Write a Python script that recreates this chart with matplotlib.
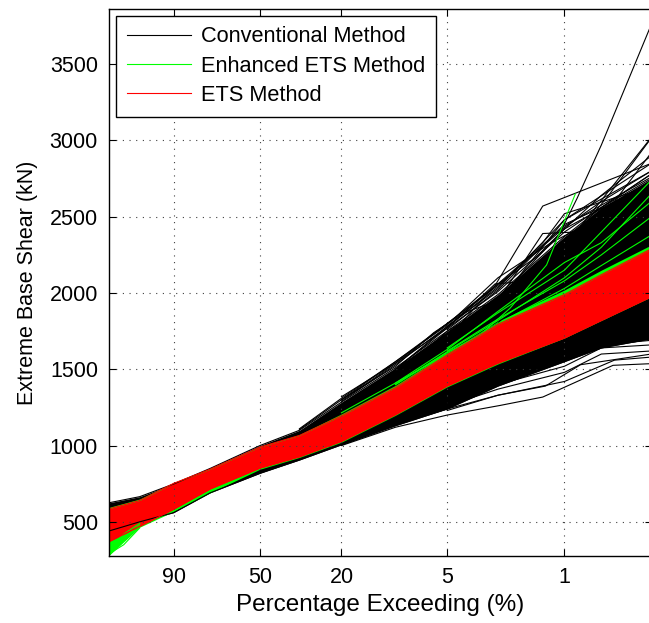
import numpy as np
import matplotlib.pyplot as plt
from matplotlib.lines import Line2D

plt.rcParams['font.family'] = ['Liberation Sans', 'DejaVu Sans']

# percentage exceeding at which the bands were read
pct = [99.65, 97.5, 90, 75, 50, 33, 20, 10, 5, 2.5, 1, 0.6, 0.3]

# conventional method, dense band (kN)
conv_lo = [440, 500, 560, 690, 818, 905, 1005, 1130, 1240, 1390, 1550, 1640, 1700]
conv_hi = [625, 665, 748, 850, 1000, 1100, 1285, 1510, 1750, 1990, 2370, 2560, 2750]

# enhanced ETS, dense band
enh_lo = [280, 465, 568, 690, 845, 922, 1022, 1198, 1385, 1535, 1705, 1820, 1975]
enh_hi = [595, 650, 758, 852, 995, 1072, 1208, 1395, 1612, 1815, 2020, 2150, 2315]

# ETS, dense band
ets_lo = [370, 470, 582, 715, 852, 926, 1027, 1202, 1390, 1540, 1705, 1820, 1975]
ets_hi = [585, 640, 752, 845, 990, 1066, 1195, 1380, 1595, 1795, 1990, 2120, 2290]

# single conventional curves above the dense band
conv_up_p = [[5, 2.5, 1.4, 0.84, 0.6, 0.3],
             [10, 5, 2.6, 1.35, 0.3],
             [10, 5, 2.5, 1.35, 0.85, 0.3],
             [20, 10, 6, 4, 2.5, 1, 0.3],
             [10, 5, 2.6, 2.0, 1, 0.3],
             [5, 2.5, 1, 0.56, 0.3],
             [5, 2.5, 1, 0.6, 0.3],
             [5, 2.5, 1, 0.6, 0.3],
             [10, 5, 2.5, 1.35, 1, 0.3],
             [20, 10, 5, 2.5, 1, 0.3],
             [20, 10, 5, 2.5, 1, 0.6, 0.3],
             [33, 20, 10, 5, 2.5, 1, 0.3],
             [20, 10, 5, 2.5, 1.2, 0.6, 0.3],
             [5, 2.5, 1.5, 1, 0.5, 0.3],
             [33, 20, 14, 10, 5, 2.5, 1, 0.3]]
conv_up_v = [[1600, 1800, 2130, 2620, 2970, 3760],
             [1420, 1700, 2050, 2570, 2850],
             [1450, 1750, 1950, 2390, 2400, 3020],
             [1300, 1520, 1740, 1870, 1950, 2350, 2650],
             [1500, 1770, 2060, 2070, 2480, 2800],
             [1650, 1900, 2300, 2620, 3016],
             [1760, 2020, 2450, 2560, 2780],
             [1700, 1960, 2420, 2640, 2900],
             [1500, 1780, 2040, 2330, 2520, 2700],
             [1290, 1530, 1780, 2030, 2480, 2850],
             [1320, 1540, 1800, 2050, 2430, 2600, 2800],
             [1110, 1310, 1550, 1800, 2060, 2440, 2760],
             [1300, 1550, 1790, 2100, 2330, 2500, 2720],
             [1780, 2060, 2230, 2420, 2600, 2920],
             [1105, 1300, 1420, 1540, 1770, 2010, 2400, 2780]]

# single conventional curves below the dense band
conv_dn_p = [[20, 10, 5, 2.43, 1.35, 0.51, 0.3],
             [20, 10, 5, 2.5, 1, 0.5, 0.3],
             [10, 5, 2.5, 1, 0.6, 0.3],
             [10, 5, 2.5, 1, 0.6, 0.3],
             [5, 2.5, 1, 0.6, 0.3],
             [5, 2.5, 1.3, 0.8, 0.3]]
conv_dn_v = [[1000, 1120, 1200, 1263, 1318, 1526, 1537],
             [1005, 1140, 1240, 1330, 1420, 1560, 1580],
             [1150, 1260, 1370, 1480, 1600, 1620],
             [1160, 1280, 1400, 1520, 1640, 1660],
             [1300, 1420, 1560, 1660, 1690],
             [1230, 1330, 1390, 1530, 1600]]

# single enhanced ETS curves (upper fringe and lower-left fan)
enh_line_p = [[10, 5, 3.2, 2.12, 1.28, 0.86],
              [5, 2.5, 1, 0.6, 0.3],
              [5, 2.5, 1, 0.6, 0.3],
              [10, 5, 2.5, 1, 0.6, 0.3],
              [20, 10, 5, 2.5, 1, 0.6, 0.3],
              [10, 5, 2.5, 1, 0.6, 0.3],
              [99.65, 99, 97.5],
              [99.65, 99, 97.5],
              [99.65, 99, 97.5],
              [99.65, 99, 97.5]]
enh_line_v = [[1400, 1610, 1724, 1900, 2184, 2650],
              [1640, 1870, 2150, 2400, 2740],
              [1620, 1830, 2080, 2250, 2500],
              [1410, 1600, 1800, 2030, 2180, 2380],
              [1215, 1410, 1630, 1880, 2200, 2330, 2600],
              [1400, 1615, 1820, 2100, 2300, 2650],
              [280, 380, 470],
              [300, 400, 480],
              [330, 420, 490],
              [290, 350, 460]]


def gumbel(p):
    # reduced variate of Gumbel probability paper
    return -np.log(-np.log(1 - np.asarray(p, dtype=float) / 100.0))


fig = plt.figure(figsize=(6.49, 6.23), dpi=100)
ax = fig.add_axes([109 / 649, 67 / 623, 543 / 649, 547 / 623])

gx = gumbel(pct)

# conventional
ax.fill_between(gx, conv_lo, conv_hi, color='black', lw=0)
for p, v in zip(conv_up_p + conv_dn_p, conv_up_v + conv_dn_v):
    ax.plot(gumbel(p), v, color='black', lw=0.8)
ax.plot(gx, conv_lo, color='black', lw=0.8)
ax.plot(gx, conv_hi, color='black', lw=0.8)

# enhanced ETS
ax.fill_between(gx, enh_lo, enh_hi, color='#00ff00', lw=0)
for p, v in zip(enh_line_p, enh_line_v):
    ax.plot(gumbel(p), v, color='#00ff00', lw=0.8)

# ETS
ax.fill_between(gx, ets_lo, ets_hi, color='red', lw=0)
ax.plot(gx, ets_lo, color='red', lw=0.8)
ax.plot(gx, ets_hi, color='red', lw=0.8)

ax.set_xlim(gumbel(99.65), gumbel(0.297))
ax.set_ylim(276, 3862)

xt = [90, 50, 20, 5, 1]
ax.set_xticks(gumbel(xt))
ax.set_xticklabels([str(t) for t in xt])
ax.set_yticks(np.arange(500, 3501, 500))

ax.tick_params(direction='in', length=5, labelsize=15.5, top=True, right=True, pad=8)
ax.grid(True, color='0.25', linestyle=(0, (1, 5)), linewidth=0.8)
for s in ax.spines.values():
    s.set_linewidth(1.0)

ax.set_xlabel('Percentage Exceeding (%)', fontsize=17.5, labelpad=4)
ax.set_ylabel('Extreme Base Shear (kN)', fontsize=15.5, labelpad=8)

handles = [Line2D([], [], color='black', lw=0.8),
           Line2D([], [], color='#00ff00', lw=0.8),
           Line2D([], [], color='red', lw=0.8)]
leg = ax.legend(handles, ['Conventional Method', 'Enhanced ETS Method', 'ETS Method'],
                loc='upper left', bbox_to_anchor=(0.013, 0.988), borderaxespad=0,
                fontsize=15.7, fancybox=False, framealpha=1, edgecolor='black',
                handlelength=2.95, handletextpad=0.45, labelspacing=0.38, borderpad=0.5)
leg.get_frame().set_linewidth(1.0)

fig.savefig('out.png', dpi=100)
